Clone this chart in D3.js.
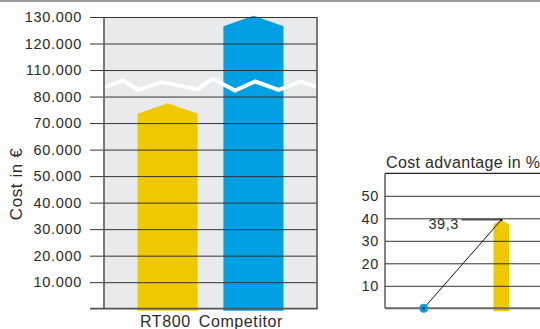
<!DOCTYPE html>
<html>
<head>
<meta charset="utf-8">
<script src="https://cdn.jsdelivr.net/npm/d3@7"></script>
<style>
  html, body { margin: 0; padding: 0; background: #fff; }
  svg { display: block; }
  text { font-family: "Liberation Sans", Arial, sans-serif; fill: #2b2b2b; }
</style>
</head>
<body>
<svg id="chart" width="540" height="329"></svg>
<script>
// Total cost comparison
const categories = ["RT800", "Competitor"];
const costValues = [77500, 130500];
const costTicks = [10000, 20000, 30000, 40000, 50000, 60000, 70000, 80000, 110000, 120000, 130000];
const costTickLabels = ["10.000", "20.000", "30.000", "40.000", "50.000", "60.000", "70.000", "80.000", "110.000", "120.000", "130.000"];
// the axis is broken between these two values
const breakLow = 80000, breakHigh = 110000;
// zigzag of the break marker: position along the plot (0..1) and offset in px
const breakWaveX = [0, 0.09, 0.16, 0.27, 0.44, 0.51, 0.615, 0.71, 0.82, 0.925, 1];
const breakWaveDy = [2.3, -4, 5, -2.7, 4.3, -6, 5.7, -3.3, 5, -3.3, 2.3];

// Cost advantage panel
const advantageTitle = "Cost advantage in %";
const advantageSteps = ["start", "RT800"];
const advantageValues = [0, 39.3];
const advantageTicks = [10, 20, 30, 40, 50];
const advantageLabel = "39,3";

const YELLOW = "#f0c800", BLUE = "#00a0e3", GRID = "#333", BG = "#e9eaec";
const svg = d3.select("#chart");

// rule along the top edge
svg.append("line").attr("x1", 0).attr("x2", 540).attr("y1", 1).attr("y2", 1)
  .attr("stroke", "#9a9a9a").attr("stroke-width", 2);

// ---------- left panel ----------
const L = { left: 104, right: 317, top: 17, bottom: 308.7 };
const unit = (L.bottom - L.top) / 11; // pixel height of one 10.000 step
const y = d3.scaleLinear()
  .domain([0, breakLow, breakHigh, 130000])
  .range([L.bottom, L.bottom - 8 * unit, L.bottom - 9 * unit, L.top]);
const x = d3.scaleBand().domain(categories).range([L.left, L.right])
  .paddingInner(0.3).paddingOuter(0.39).align(0.5);

svg.append("rect").attr("x", L.left).attr("y", L.top)
  .attr("width", L.right - L.left).attr("height", L.bottom - L.top).attr("fill", BG);

// bars with a pointed top; the tip sits at the value
function arrowBar(x0, w, yTip, yBase, tip) {
  const p = d3.path();
  p.moveTo(x0, yBase);
  p.lineTo(x0, yTip + tip);
  p.lineTo(x0 + w / 2, yTip);
  p.lineTo(x0 + w, yTip + tip);
  p.lineTo(x0 + w, yBase);
  p.closePath();
  return p.toString();
}
const barColors = [YELLOW, BLUE];
svg.append("g").selectAll("path").data(categories).join("path")
  .attr("d", (c, i) => arrowBar(x(c), x.bandwidth(), y(costValues[i]), L.bottom + 2, x.bandwidth() * 0.175))
  .attr("fill", (c, i) => barColors[i]);

// gridlines
const gy = svg.append("g").attr("transform", `translate(${L.right},0)`);
gy.call(d3.axisLeft(y).tickValues(costTicks).tickFormat("").tickSize(L.right - L.left + 14));
gy.select(".domain").remove();
gy.selectAll(".tick line").attr("stroke", GRID).attr("stroke-width", 1);

// tick labels
svg.append("g").selectAll("text").data(costTicks).join("text")
  .attr("x", 82).attr("y", d => y(d)).attr("dy", "0.36em")
  .attr("text-anchor", "end").attr("font-size", 14.5).attr("letter-spacing", 0.7)
  .text((d, i) => costTickLabels[i]);

// axis break marker
const waveY = (y(breakLow) + y(breakHigh)) / 2 + 1.5;
svg.append("path")
  .attr("d", d3.line()(breakWaveX.map((f, i) => [L.left + f * (L.right - L.left), waveY + breakWaveDy[i]])))
  .attr("fill", "none").attr("stroke", "#fff").attr("stroke-width", 4).attr("stroke-linejoin", "miter");

// frame
svg.append("line").attr("x1", L.left).attr("x2", L.left).attr("y1", L.top).attr("y2", L.bottom)
  .attr("stroke", "#5a5a5a").attr("stroke-width", 1.6);
svg.append("line").attr("x1", L.right).attr("x2", L.right).attr("y1", L.top).attr("y2", L.bottom)
  .attr("stroke", "#5a5a5a").attr("stroke-width", 1.6);
svg.append("line").attr("x1", 90).attr("x2", L.right + 0.8).attr("y1", L.bottom).attr("y2", L.bottom)
  .attr("stroke", "#555").attr("stroke-width", 1.8);

// category labels
svg.append("text").attr("x", (L.left + L.right) / 2 + 1).attr("y", 327)
  .attr("text-anchor", "middle").attr("font-size", 16).attr("letter-spacing", 0.6)
  .attr("word-spacing", 3)
  .text(categories.join(" "));

// axis title
svg.append("text").attr("transform", `translate(22,184) rotate(-90)`)
  .attr("text-anchor", "middle").attr("font-size", 17).attr("letter-spacing", 0.6)
  .text("Cost in €");

// ---------- right panel ----------
const R = { left: 385, right: 540, top: 173.3, bottom: 308.3 };
const y2 = d3.scaleLinear().domain([0, 60]).range([R.bottom, R.top]);
const x2 = d3.scalePoint().domain(advantageSteps).range([R.left, R.right]).padding(0.5);

svg.append("text").attr("x", 386).attr("y", 168).attr("font-size", 16).attr("letter-spacing", 0.35)
  .text(advantageTitle);

// bar for the advantage
const bw2 = 15.5;
svg.append("path")
  .attr("d", arrowBar(x2("RT800") - bw2 / 2, bw2, y2(advantageValues[1]), R.bottom + 3, 4.3))
  .attr("fill", YELLOW);

const g2 = svg.append("g").attr("transform", `translate(${R.right},0)`);
g2.call(d3.axisLeft(y2).tickValues(advantageTicks).tickFormat("").tickSize(R.right - R.left));
g2.select(".domain").remove();
g2.selectAll(".tick line").attr("stroke", GRID).attr("stroke-width", 1);

svg.append("g").selectAll("text").data(advantageTicks).join("text")
  .attr("x", 379).attr("y", d => y2(d)).attr("dy", "0.36em")
  .attr("text-anchor", "end").attr("font-size", 14.5).attr("letter-spacing", 0.7)
  .text(d => d);

svg.append("line").attr("x1", R.left).attr("x2", R.right).attr("y1", R.top).attr("y2", R.top)
  .attr("stroke", "#222").attr("stroke-width", 1.2);
svg.append("line").attr("x1", R.left).attr("x2", R.left).attr("y1", R.top).attr("y2", R.bottom)
  .attr("stroke", "#333").attr("stroke-width", 1.2);
svg.append("line").attr("x1", R.left).attr("x2", R.right).attr("y1", R.bottom).attr("y2", R.bottom)
  .attr("stroke", "#666").attr("stroke-width", 2);

// rise line from the start point to the advantage value
const pts = advantageSteps.map((s, i) => [x2(s), y2(advantageValues[i])]);
svg.append("path").attr("d", d3.line()(pts)).attr("fill", "none")
  .attr("stroke", "#111").attr("stroke-width", 1);
svg.append("circle").attr("cx", pts[0][0]).attr("cy", pts[0][1]).attr("r", 4.5).attr("fill", BLUE);
svg.append("circle").attr("cx", pts[0][0]).attr("cy", pts[0][1]).attr("r", 1.2).attr("fill", "#111");
svg.append("circle").attr("cx", pts[1][0]).attr("cy", pts[1][1]).attr("r", 1.2).attr("fill", "#111");

// value label with leader
svg.append("line").attr("x1", 461.5).attr("x2", pts[1][0]).attr("y1", pts[1][1]).attr("y2", pts[1][1])
  .attr("stroke", "#111").attr("stroke-width", 1);
svg.append("text").attr("x", 459).attr("y", pts[1][1] + 9).attr("text-anchor", "end")
  .attr("font-size", 14.5).attr("letter-spacing", 0.6)
  .text(advantageLabel);
</script>
</body>
</html>
